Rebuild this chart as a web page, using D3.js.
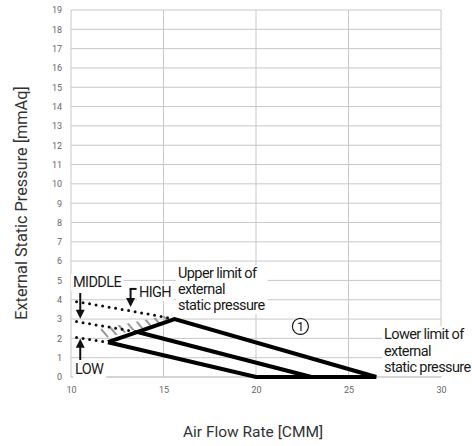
<!DOCTYPE html>
<html lang="en">
<head>
<meta charset="UTF-8">
<title>Fan performance</title>
<script src="https://cdn.jsdelivr.net/npm/d3@7"></script>
<style>
    body { margin: 0; background: #fff; }
    svg { display: block; }
    .tick text { font-family: Roboto, sans-serif; font-size: 9px; fill: #666; }
    .grid line { stroke: #c8c8c8; stroke-width: 1; }
    .title { font-family: Roboto, sans-serif; fill: #333; }
    .note { font-family: Roboto, sans-serif; font-size: 14.5px; fill: #1a1a1a; letter-spacing: -0.6px; }
</style>
</head>
<body>
<svg width="472" height="446"></svg>
<script>
    // axis ticks
    const xTicks = [10, 15, 20, 25, 30];
    const yTicks = [0, 1, 2, 3, 4, 5, 6, 7, 8, 9, 10, 11, 12, 13, 14, 15, 16, 17, 18, 19];

    // operating envelope (solid)
    const envelope = [[12, 1.8], [15.6, 3.0], [26.5, 0], [20, 0], [12, 1.8]];
    const middleCurve = [[13.6, 2.33], [23, 0]];

    // dotted extensions
    const highDotted = [[10.3, 3.9], [13.2, 3.43], [15.6, 3.0]];
    const middleDotted = [[10.3, 2.87], [13.6, 2.33]];
    const lowDotted = [[10.3, 2.05], [12, 1.8]];

    // hatched band between the dotted curves
    const hatchBand = [[11.6, 1.95], [15.4, 2.95], [15.4, 3.22], [11.6, 2.5]];

    // arrows [x, yFrom, yTo]
    const arrows = [
        { name: "MIDDLE", x: 10.5, from: 4.35, to: 3.02 },
        { name: "HIGH", x: 13.22, from: 4.56, to: 3.62 },
        { name: "LOW", x: 10.5, from: 0.88, to: 1.98 }
    ];

    const svg = d3.select("svg");
    const x = d3.scaleLinear().domain([10, 30]).range([71, 441]);
    const y = d3.scaleLinear().domain([0, 19]).range([377, 10]);

    // grid
    const grid = svg.append("g").attr("class", "grid");
    grid.selectAll(".h").data(yTicks).enter().append("line")
        .attr("x1", x(10)).attr("x2", x(30))
        .attr("y1", d => y(d)).attr("y2", d => y(d));
    grid.selectAll(".v").data(xTicks.slice(1)).enter().append("line")
        .attr("x1", d => x(d)).attr("x2", d => x(d))
        .attr("y1", y(0)).attr("y2", y(19));
    grid.append("line")
        .attr("x1", x(10)).attr("x2", x(10)).attr("y1", y(0)).attr("y2", y(19))
        .attr("stroke", "#999");
    grid.append("line")
        .attr("x1", x(10)).attr("x2", x(30)).attr("y1", y(0)).attr("y2", y(0))
        .attr("stroke", "#999");

    // axes (labels only)
    const xAxis = svg.append("g")
        .attr("transform", `translate(0,${y(0)})`)
        .call(d3.axisBottom(x).tickValues(xTicks).tickSize(0).tickPadding(10));
    const yAxis = svg.append("g")
        .attr("transform", `translate(${x(10)},0)`)
        .call(d3.axisLeft(y).tickValues(yTicks).tickSize(0).tickPadding(9));
    xAxis.select(".domain").remove();
    yAxis.select(".domain").remove();

    svg.append("text").attr("class", "title")
        .attr("x", 253).attr("y", 437).attr("text-anchor", "middle")
        .attr("font-size", 15.5)
        .text("Air Flow Rate [CMM]");
    svg.append("text").attr("class", "title")
        .attr("transform", "translate(27,203) rotate(-90)")
        .attr("text-anchor", "middle")
        .attr("font-size", 16.3)
        .text("External Static Pressure [mmAq]");

    // annotation texts with white backing
    const notes = svg.append("g");
    const bgLayer = notes.append("g");
    function note(lines, px, py, lh) {
        const t = notes.append("text").attr("class", "note");
        lines.forEach((s, i) => {
            t.append("tspan").attr("x", px).attr("y", py + i * lh).text(s);
        });
        const b = t.node().getBBox();
        bgLayer.append("rect")
            .attr("x", b.x - 2).attr("y", b.y)
            .attr("width", b.width + 4).attr("height", b.height)
            .attr("fill", "#fff");
    }
    note(["MIDDLE"], 73, 287, 16);
    note(["HIGH"], 139, 297, 16);
    note(["Upper limit of", "external", "static pressure"], 178, 278, 16);
    note(["LOW"], 75, 374, 16);
    note(["Lower limit of", "external", "static pressure"], 384, 339, 16.5);

    // hatch
    const defs = svg.append("defs");
    defs.append("pattern")
        .attr("id", "hatch")
        .attr("patternUnits", "userSpaceOnUse")
        .attr("width", 8).attr("height", 8)
        .attr("patternTransform", "rotate(-40)")
        .append("line")
        .attr("x1", 2).attr("x2", 2).attr("y1", 0).attr("y2", 8)
        .attr("stroke", "#8c8c8c").attr("stroke-width", 1.8);

    const line = d3.line().x(d => x(d[0])).y(d => y(d[1]));

    svg.append("path")
        .attr("d", line(hatchBand) + "Z")
        .attr("fill", "url(#hatch)");

    // dotted lines
    [highDotted, middleDotted, lowDotted].forEach(pts => {
        svg.append("path")
            .attr("d", line(pts))
            .attr("fill", "none")
            .attr("stroke", "#111")
            .attr("stroke-width", 3)
            .attr("stroke-linecap", "round")
            .attr("stroke-dasharray", "0 6.6");
    });

    // solid envelope
    svg.append("path")
        .attr("d", line(envelope))
        .attr("fill", "none")
        .attr("stroke", "#000")
        .attr("stroke-width", 4)
        .attr("stroke-linejoin", "miter");
    svg.append("path")
        .attr("d", line(middleCurve))
        .attr("fill", "none")
        .attr("stroke", "#000")
        .attr("stroke-width", 4);

    // arrows
    arrows.forEach(a => {
        const ax = x(a.x), y0 = y(a.from), y1 = y(a.to);
        const dir = y1 > y0 ? 1 : -1;
        const g = svg.append("g");
        g.append("line")
            .attr("x1", ax).attr("x2", ax)
            .attr("y1", y0).attr("y2", y1 - dir * 7)
            .attr("stroke", "#111").attr("stroke-width", 2);
        g.append("path")
            .attr("d", `M${ax - 4.5},${y1 - dir * 9}L${ax + 4.5},${y1 - dir * 9}L${ax},${y1}Z`)
            .attr("fill", "#111");
        if (a.name === "HIGH") {
            g.append("line")
                .attr("x1", ax - 1).attr("x2", ax + 6)
                .attr("y1", y0).attr("y2", y0)
                .attr("stroke", "#111").attr("stroke-width", 2);
        }
    });

    // circled 1
    const mark = svg.append("g").attr("transform", `translate(${x(22.4)},${y(2.62)})`);
    mark.append("circle").attr("r", 8).attr("fill", "#fff").attr("stroke", "#111").attr("stroke-width", 1.1);
    mark.append("text")
        .attr("text-anchor", "middle").attr("dy", "0.36em")
        .attr("font-family", "Roboto, sans-serif").attr("font-size", 12.5).attr("fill", "#111")
        .text("1");
</script>
</body>
</html>
